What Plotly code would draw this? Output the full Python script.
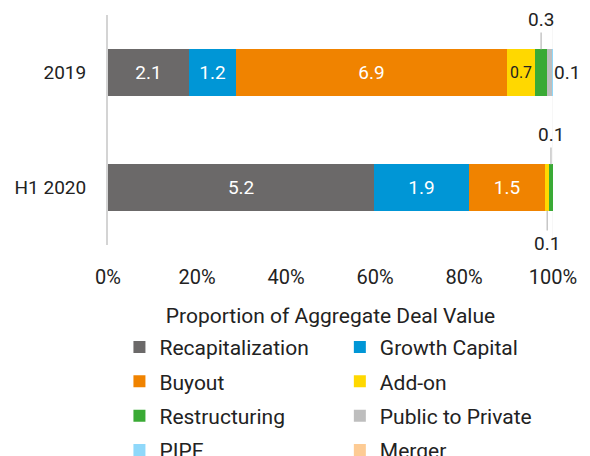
import plotly.graph_objects as go

categories = ["2019", "H1 2020"]
series_names = ["Recapitalization", "Growth Capital", "Buyout", "Add-on",
                "Restructuring", "Public to Private", "PIPE", "Merger"]
recap = [2.07, 5.24]
growth = [1.21, 1.86]
buyout = [6.94, 1.51]
addon = [0.72, 0.07]
restructuring = [0.31, 0.08]
public_private = [0.13, 0.0]
pipe = [0.02, 0.0]
merger = [0.0, 0.0]
x_ticks = [0, 20, 40, 60, 80, 100]
x_tick_labels = ["0%", "20%", "40%", "60%", "80%", "100%"]

values = [recap, growth, buyout, addon, restructuring, public_private, pipe, merger]
colors = ["#6b6969", "#0096d6", "#f08300", "#ffd800", "#3aaa35", "#bebebe", "#8fd8fa", "#fdcb94"]
text_colors = ["white", "white", "white", "#222222", "white", "white", "white", "white"]
# column of the legend each series belongs to
legend_ids = ["legend", "legend2", "legend", "legend2", "legend", "legend2", "legend", "legend2"]

totals = [sum(v[i] for v in values) for i in range(len(categories))]

FONT = "Roboto"
LBL = 19
BIG = 21
fig = go.Figure()
for name, vals, col, tcol, lg in zip(series_names, values, colors, text_colors, legend_ids):
    texts = [f"{v:.1f}" if (v / t) >= 0.05 else "" for v, t in zip(vals, totals)]
    fig.add_trace(go.Bar(
        y=categories, x=vals, name=name, orientation="h",
        marker=dict(color=col, line=dict(width=0)),
        text=texts, textposition="inside", insidetextanchor="middle",
        textangle=0, textfont=dict(size=LBL, color=tcol, family=FONT),
        legend=lg, legendgroup=name,
    ))

# small-segment labels: (series index, category index, placement)
small_labels = [(4, 0, "above"), (5, 0, "right"), (4, 1, "above"), (3, 1, "below")]
annotations = []
for si, ci, place in small_labels:
    start = sum(values[k][ci] for k in range(si)) / totals[ci] * 100
    end = start + values[si][ci] / totals[ci] * 100
    mid = (start + end) / 2
    txt = f"{values[si][ci]:.1f}"
    if place == "right":
        annotations.append(dict(x=end, y=ci, xref="x", yref="y", text=txt,
                                showarrow=False, xanchor="left", yanchor="middle",
                                font=dict(size=LBL, color="#222222", family=FONT)))
    else:
        ay = -53 if place == "above" else 56
        annotations.append(dict(x=mid, y=ci, xref="x", yref="y", text=txt,
                                showarrow=True, arrowhead=0, arrowwidth=1, arrowcolor="#aaaaaa",
                                ax=0, ay=ay, standoff=23,
                                font=dict(size=LBL, color="#222222", family=FONT)))

legend_style = dict(yanchor="top", xanchor="left", orientation="v", tracegroupgap=4,
                    font=dict(size=BIG, family=FONT, color="#222222"),
                    bgcolor="rgba(0,0,0,0)", itemclick=False, itemdoubleclick=False)
fig.update_layout(
    width=582, height=448,
    barmode="stack", barnorm="percent", bargap=0.59,
    margin=dict(l=100, r=37, t=7, b=211, autoexpand=False),
    paper_bgcolor="white", plot_bgcolor="white",
    font=dict(family=FONT, size=LBL, color="#222222"),
    annotations=annotations,
    showlegend=True,
    legend=dict(x=0.0257, y=-0.356, **legend_style),
    legend2=dict(x=0.521, y=-0.356, **legend_style),
    shapes=[dict(type="line", xref="x", yref="paper", x0=100, x1=100, y0=0, y1=1,
                 line=dict(color="#eeeeee", width=1), layer="below")],
)
fig.update_xaxes(range=[0, 100], tickvals=x_ticks, ticktext=x_tick_labels,
                 showgrid=False, zeroline=False, showline=False,
                 ticks="", ticklabelstandoff=18, tickfont=dict(size=LBL + 1),
                 title=dict(text="Proportion of Aggregate Deal Value", standoff=20,
                            font=dict(size=BIG)))
fig.update_yaxes(type="category", categoryorder="array", categoryarray=categories,
                 range=[len(categories) - 0.5, -0.5], showgrid=False, zeroline=False,
                 showline=True, linecolor="#d4d4d4", linewidth=2,
                 ticks="", ticklabelstandoff=16, tickfont=dict(size=LBL))

fig.write_html("out.html")
